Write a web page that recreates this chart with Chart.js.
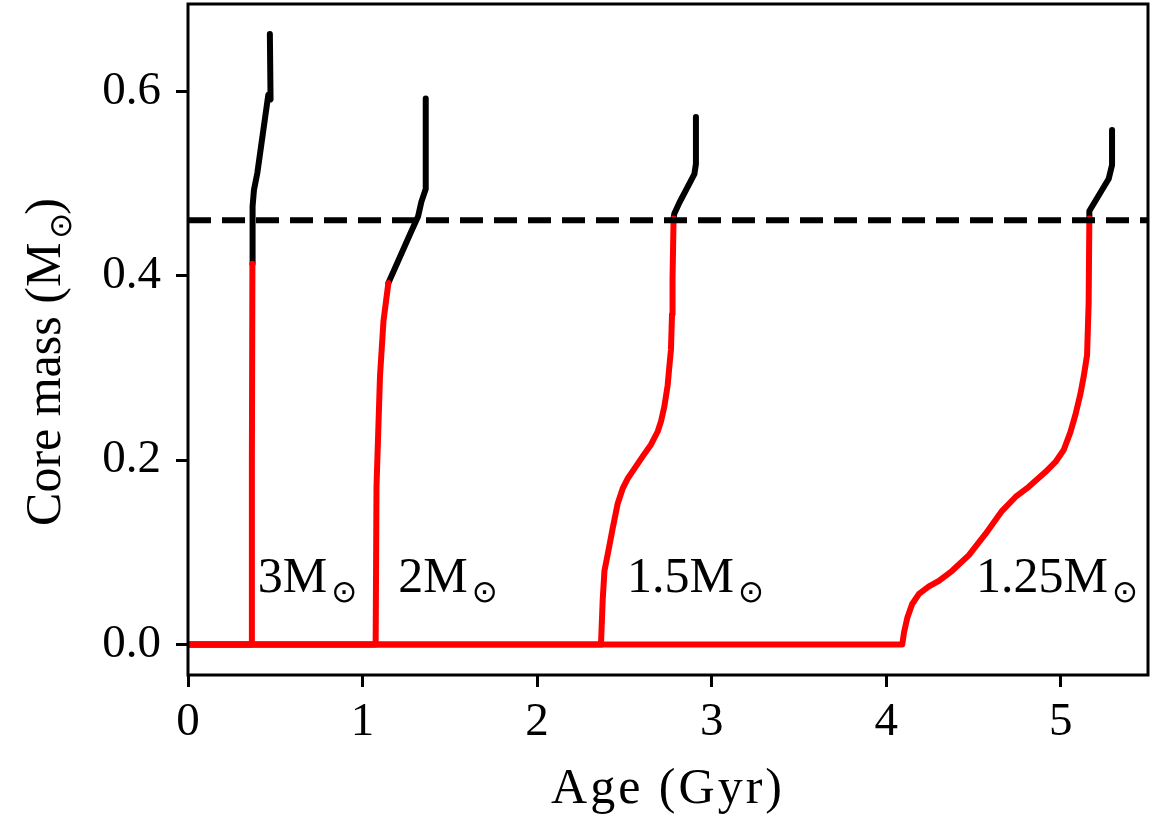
<!DOCTYPE html>
<html>
<head>
<meta charset="utf-8">
<script src="https://cdn.jsdelivr.net/npm/chart.js@4/dist/chart.umd.min.js"></script>
<style>
  html, body { margin: 0; padding: 0; background: #fff; }
  #wrap { width: 1166px; height: 816px; position: relative; }
</style>
</head>
<body>
<div id="wrap"><canvas id="c"></canvas></div>
<script>
// ---------------- data ----------------
const xTickValues = [0, 1, 2, 3, 4, 5];
const yTickValues = [0.0, 0.2, 0.4, 0.6];
const xTitle = 'Age (Gyr)';
const yTitle = 'Core mass (M';
const sunSymbol = '\u2299';

const threshold = 0.46;

// 3 Msun
const red3Age  = [0, 0.363, 0.366, 0.369];
const red3Mass = [0, 0, 0.2, 0.413];
const blk3Age  = [0.369, 0.370, 0.378, 0.397, 0.460, 0.473, 0.469];
const blk3Mass = [0.413, 0.475, 0.493, 0.511, 0.596, 0.591, 0.662];

// 2 Msun
const red2Age  = [0, 1.075, 1.080, 1.100, 1.120, 1.148];
const red2Mass = [0, 0, 0.171, 0.291, 0.351, 0.392];
const blk2Age  = [1.148, 1.270, 1.318, 1.337, 1.362, 1.362];
const blk2Mass = [0.392, 0.444, 0.464, 0.480, 0.494, 0.592];

// 1.5 Msun
const red15Age  = [0, 2.366, 2.376, 2.386, 2.414, 2.433, 2.462, 2.490, 2.519, 2.548, 2.605, 2.653, 2.691, 2.710, 2.729, 2.748, 2.757, 2.767, 2.773, 2.776, 2.782];
const red15Mass = [0, 0, 0.049, 0.080, 0.107, 0.126, 0.153, 0.169, 0.180, 0.188, 0.204, 0.217, 0.231, 0.242, 0.258, 0.281, 0.300, 0.320, 0.358, 0.397, 0.462];
const blk15Age  = [2.782, 2.786, 2.815, 2.901, 2.910, 2.910];
const blk15Mass = [0.462, 0.467, 0.479, 0.510, 0.521, 0.572];

// 1.25 Msun
const red125Age  = [0, 4.092, 4.102, 4.121, 4.149, 4.188, 4.245, 4.302, 4.378, 4.474, 4.569, 4.664, 4.741, 4.817, 4.912, 4.970, 5.017, 5.055, 5.084, 5.113, 5.132, 5.151, 5.160, 5.164];
const red125Mass = [0, 0, 0.013, 0.029, 0.044, 0.055, 0.063, 0.069, 0.080, 0.097, 0.120, 0.145, 0.160, 0.171, 0.187, 0.198, 0.211, 0.230, 0.249, 0.272, 0.291, 0.314, 0.371, 0.462];
const blk125Age  = [5.164, 5.164, 5.275, 5.294, 5.294];
const blk125Mass = [0.462, 0.470, 0.505, 0.520, 0.558];

// annotations
const labelTexts = ['3M', '2M', '1.5M', '1.25M'];
const labelAges  = [0.40, 1.205, 2.515, 4.515];
const labelMass  = [0.057, 0.057, 0.057, 0.057];

// ---------------- helpers ----------------
function pts(xs, ys) { return xs.map((x, i) => ({ x: x, y: ys[i] })); }
const RED = '#ff0000', BLACK = '#000000';
function lineDs(xs, ys, color) {
  return { data: pts(xs, ys), borderColor: color, backgroundColor: color, borderWidth: 6,
           showLine: true, pointRadius: 0, tension: 0, borderCapStyle: 'round', borderJoinStyle: 'round', fill: false };
}

const SERIF = '"Liberation Serif", "DejaVu Serif", serif';

const datasets = [
  { data: [{ x: 0, y: threshold }, { x: 5.5, y: threshold }], borderColor: BLACK, borderWidth: 6,
    borderDash: [23, 11], showLine: true, pointRadius: 0, borderCapStyle: 'butt', fill: false },
  lineDs(red125Age, red125Mass, RED),
  lineDs(red15Age, red15Mass, RED),
  lineDs(red2Age, red2Mass, RED),
  lineDs(red3Age, red3Mass, RED),
  lineDs(blk3Age, blk3Mass, BLACK),
  lineDs(blk2Age, blk2Mass, BLACK),
  lineDs(blk15Age, blk15Mass, BLACK),
  lineDs(blk125Age, blk125Mass, BLACK)
];

function drawSunLabel(ctx, text, x, baseline, mainSize) {
  ctx.save();
  ctx.font = mainSize + 'px ' + SERIF;
  ctx.textBaseline = 'alphabetic';
  ctx.textAlign = 'left';
  ctx.fillStyle = '#000';
  ctx.fillText(text, x, baseline);
  const w = ctx.measureText(text).width;
  ctx.font = '31px "DejaVu Sans"';
  const m = ctx.measureText(sunSymbol);
  const half = (m.actualBoundingBoxAscent + m.actualBoundingBoxDescent) / 2;
  ctx.fillText(sunSymbol, x + w + 2 - m.actualBoundingBoxLeft, baseline + 1 + (m.actualBoundingBoxAscent - half));
  ctx.restore();
  return w + 2 + m.width;
}

const framePlugin = {
  id: 'frame',
  afterDraw(chart) {
    const { ctx, chartArea: a, scales } = chart;
    ctx.save();
    ctx.strokeStyle = '#000';
    ctx.lineWidth = 3;
    ctx.strokeRect(a.left, a.top, a.right - a.left, a.bottom - a.top);
    ctx.restore();

    // annotations
    for (let i = 0; i < labelTexts.length; i++) {
      const px = scales.x.getPixelForValue(labelAges[i]);
      const py = scales.y.getPixelForValue(labelMass[i]);
      drawSunLabel(ctx, labelTexts[i], px, py, 50);
    }

    // x title
    ctx.save();
    ctx.font = '50px ' + SERIF;
    ctx.letterSpacing = '3px';
    ctx.fillStyle = '#000';
    ctx.textAlign = 'center';
    ctx.textBaseline = 'alphabetic';
    ctx.fillText(xTitle, (a.left + a.right) / 2, 803);
    ctx.restore();

    // y title (rotated)
    ctx.save();
    ctx.font = '50px ' + SERIF;
    const w1 = ctx.measureText(yTitle).width;
    ctx.font = '31px "DejaVu Sans"';
    const ws = ctx.measureText(sunSymbol).width;
    ctx.font = '50px ' + SERIF;
    const w2 = ctx.measureText(')').width;
    const total = w1 + 2 + ws + w2;
    const cy = 362;
    ctx.translate(60, cy + total / 2);
    ctx.rotate(-Math.PI / 2);
    const used = drawSunLabel(ctx, yTitle, 0, 0, 50);
    ctx.font = '50px ' + SERIF;
    ctx.fillStyle = '#000';
    ctx.textBaseline = 'alphabetic';
    ctx.textAlign = 'left';
    ctx.fillText(')', used, 0);
    ctx.restore();
  }
};

new Chart(document.getElementById('c'), {
  type: 'scatter',
  data: { datasets: datasets },
  options: {
    responsive: true,
    maintainAspectRatio: false,
    animation: false,
    events: [],
    layout: { padding: { top: 4, right: 18, left: 0, bottom: 0 } },
    plugins: { legend: { display: false }, tooltip: { enabled: false } },
    scales: {
      x: {
        type: 'linear', min: 0, max: 5.5,
        afterFit(s) { s.height = 141; s.paddingLeft = 0; s.paddingRight = 0; },
        afterBuildTicks(s) { s.ticks = xTickValues.map(v => ({ value: v })); },
        grid: { display: true, drawOnChartArea: false, drawTicks: true, tickLength: 12, tickWidth: 3, tickColor: '#000' },
        border: { display: false },
        ticks: { color: '#000', padding: 7, maxRotation: 0, font: { family: SERIF, size: 47 },
                 callback: v => String(v) }
      },
      y: {
        type: 'linear', min: -0.033, max: 0.6945,
        afterFit(s) { s.width = 188; s.paddingTop = 0; s.paddingBottom = 0; },
        afterBuildTicks(s) { s.ticks = yTickValues.map(v => ({ value: v })); },
        grid: { display: true, drawOnChartArea: false, drawTicks: true, tickLength: 12, tickWidth: 3, tickColor: '#000' },
        border: { display: false },
        ticks: { color: '#000', padding: 15, font: { family: SERIF, size: 47 },
                 callback: v => Number(v).toFixed(1) }
      }
    }
  },
  plugins: [framePlugin]
});
</script>
</body>
</html>
